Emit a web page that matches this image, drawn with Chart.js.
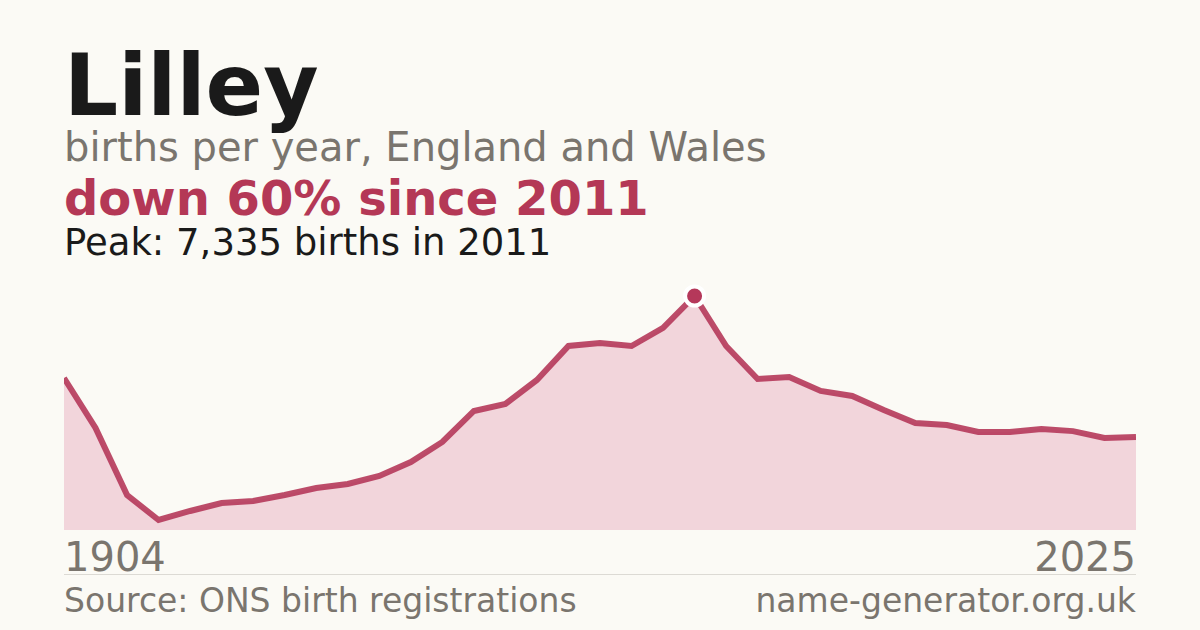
<!DOCTYPE html>
<html>
<head>
<meta charset="utf-8">
<script src="https://cdn.jsdelivr.net/npm/chart.js@4"></script>
<style>
  html,body{margin:0;padding:0;}
  body{width:1200px;height:630px;background:#fbfaf5;position:relative;overflow:hidden;font-family:"DejaVu Sans",sans-serif;}
  .t{position:absolute;left:64px;line-height:1;white-space:nowrap;}
  #title{top:43px;font-size:85px;font-weight:bold;color:#1a1a1a;}
  #sub{top:127px;font-size:40px;color:#7a756e;}
  #down{top:174px;font-size:48px;font-weight:bold;color:#b43856;}
  #peak{top:224px;font-size:37px;color:#1a1a1a;}
  #y0{top:537px;font-size:40px;color:#7a756e;}
  #y1{top:537px;font-size:40px;color:#7a756e;left:auto;right:64px;}
  #rule{position:absolute;left:64px;width:1072px;top:574px;height:1px;background:#dcdad4;}
  #src{top:584px;font-size:33px;color:#7a756e;}
  #site{top:584px;font-size:33px;color:#7a756e;left:auto;right:64px;}
  #wrap{position:absolute;left:64px;top:276px;width:1072px;height:254px;}
</style>
</head>
<body>
<div class="t" id="title">Lilley</div>
<div class="t" id="sub">births per year, England and Wales</div>
<div class="t" id="down">down 60% since 2011</div>
<div class="t" id="peak">Peak: 7,335 births in 2011</div>
<div id="wrap"><canvas id="c"></canvas></div>
<div class="t" id="y0">1904</div>
<div class="t" id="y1">2025</div>
<div id="rule"></div>
<div class="t" id="src">Source: ONS birth registrations</div>
<div class="t" id="site">name-generator.org.uk</div>
<script>
const years = [1904,1924,1944,1964,1984,1996,1997,1998,1999,2000,2001,2002,2003,2004,2005,2006,2007,2008,2009,2010,2011,2012,2013,2014,2015,2016,2017,2018,2019,2020,2021,2022,2023,2024,2025];
const births = [4765,3198,1097,314,596,846,909,1097,1317,1442,1693,2132,2759,3731,3950,4703,5768,5862,5768,6333,7335,5768,4734,4797,4358,4201,3762,3354,3292,3072,3072,3166,3100,2884,2915];
const peakIndex = 20;
const yMax = 7962;

const lineColor = '#b5385a';
new Chart(document.getElementById('c'), {
  type: 'line',
  data: {
    labels: years,
    datasets: [{
      data: births,
      borderColor: 'rgba(181,56,90,0.9)',
      borderWidth: 6,
      backgroundColor: '#f2d5db',
      fill: 'origin',
      tension: 0,
      clip: false,
      pointRadius: births.map((v,i)=> i===peakIndex ? 9.5 : 0),
      pointBackgroundColor: lineColor,
      pointBorderColor: '#ffffff',
      pointBorderWidth: 4,
      pointHoverRadius: 0
    }]
  },
  options: {
    responsive: true,
    maintainAspectRatio: false,
    animation: false,
    layout: {padding: 0},
    plugins: {legend: {display: false}, tooltip: {enabled: false}},
    scales: {
      x: {display: false, offset: false},
      y: {display: false, min: 0, max: yMax}
    }
  }
});
</script>
</body>
</html>
